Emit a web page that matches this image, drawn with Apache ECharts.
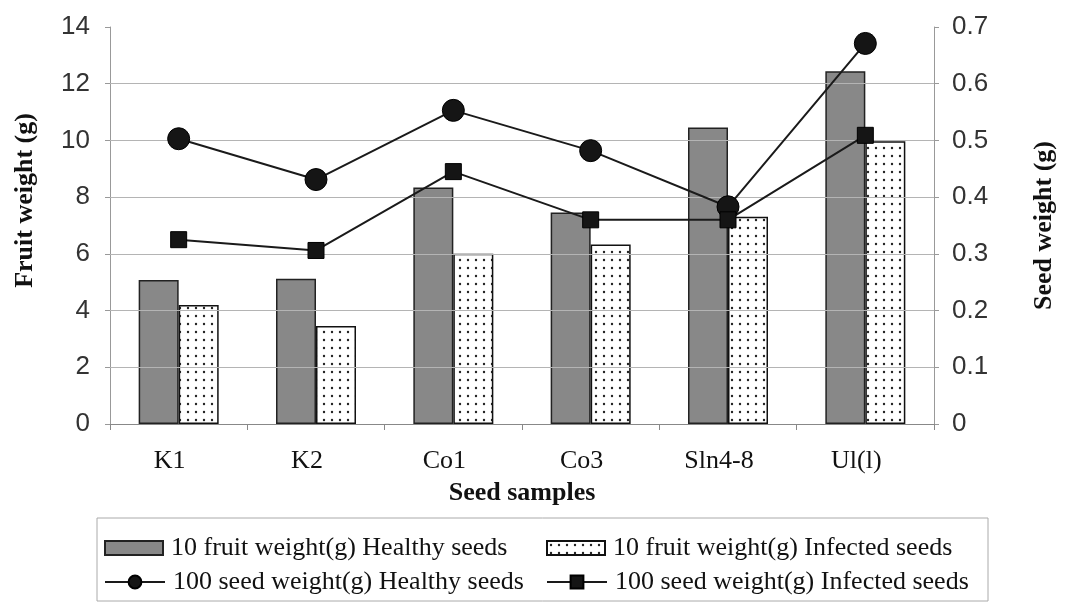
<!DOCTYPE html>
<html>
<head>
<meta charset="utf-8">
<script src="https://cdn.jsdelivr.net/npm/echarts@6/dist/echarts.min.js"></script>
<style>
html,body{margin:0;padding:0;background:#fff;}
#c{width:1065px;height:602px;}
</style>
</head>
<body>
<div id="c"></div>
<script>
// ---- data ----
var categories = ['K1', 'K2', 'Co1', 'Co3', 'Sln4-8', 'Ul(l)'];
var fruitHealthy = [5.08, 5.12, 8.34, 7.46, 10.46, 12.44];
var fruitInfected = [4.2, 3.46, 6.0, 6.33, 7.31, 9.97];
var seedHealthy = [0.503, 0.431, 0.553, 0.482, 0.383, 0.671];
var seedInfected = [0.325, 0.306, 0.445, 0.36, 0.36, 0.509];
var seriesNames = [
  '10 fruit weight(g) Healthy seeds',
  '10 fruit weight(g) Infected seeds',
  '100 seed weight(g) Healthy seeds',
  '100 seed weight(g) Infected seeds'
];
var leftTicks = [0, 14, 2];
var rightTicks = [0, 0.7, 0.1];
var gridValues = [2, 4, 6, 8, 10, 12];

// dotted pattern
var pc = document.createElement('canvas');
pc.width = 8; pc.height = 8;
var g = pc.getContext('2d');
g.fillStyle = '#fff'; g.fillRect(0, 0, 8, 8);
g.fillStyle = '#222';
g.beginPath(); g.arc(4, 4, 1.2, 0, Math.PI * 2); g.fill();

var serif = 'Liberation Serif';
var sans = 'Liberation Sans';

var chart = echarts.init(document.getElementById('c'), null, {renderer: 'canvas'});

function legendItem(name, left, top, w, h, icon) {
  var o = {
    data: [name], left: left, top: top, orient: 'horizontal',
    itemWidth: w, itemHeight: h, itemGap: 0, padding: 0,
    selectedMode: false,
    textStyle: {fontFamily: serif, fontSize: 26, color: '#111', padding: [0, 0, 0, 3]}
  };
  if (icon) o.icon = icon;
  return o;
}

chart.setOption({
  animation: false,
  backgroundColor: '#fff',
  grid: {left: 110, right: 122, top: 27, bottom: 178},
  graphic: [{
    type: 'rect', shape: {x: 97, y: 518, width: 891, height: 83},
    style: {fill: 'none', stroke: '#aaa', lineWidth: 1}
  }],
  legend: [
    legendItem(seriesNames[0], 104, 535, 58, 14, 'rect'),
    legendItem(seriesNames[1], 546, 535, 58, 14, 'rect'),
    legendItem(seriesNames[2], 104, 569, 60, 16),
    legendItem(seriesNames[3], 546, 569, 60, 16)
  ],
  xAxis: {
    type: 'category', data: categories,
    name: 'Seed samples', nameLocation: 'middle', nameGap: 56,
    nameTextStyle: {fontFamily: serif, fontSize: 26, fontWeight: 'bold', color: '#111'},
    axisLine: {lineStyle: {color: '#888', width: 1}},
    axisTick: {show: true, length: 6, lineStyle: {color: '#888'}},
    axisLabel: {fontFamily: serif, fontSize: 26, color: '#111', margin: 24, padding: [0, 18, 0, 0]}
  },
  yAxis: [{
    type: 'value', min: leftTicks[0], max: leftTicks[1], interval: leftTicks[2],
    position: 'left',
    name: 'Fruit weight (g)', nameLocation: 'middle', nameGap: 72,
    nameTextStyle: {fontFamily: serif, fontSize: 26, fontWeight: 'bold', color: '#111', padding: [0, 0, 0, 50]},
    axisLine: {show: true, lineStyle: {color: '#999'}},
    axisTick: {show: true, length: 5, lineStyle: {color: '#999'}},
    axisLabel: {fontFamily: sans, fontSize: 26, color: '#333', margin: 20},
    splitLine: {show: false}
  }, {
    type: 'value', min: rightTicks[0], max: rightTicks[1], interval: rightTicks[2],
    position: 'right',
    name: 'Seed weight (g)', nameLocation: 'middle', nameGap: 97, nameRotate: 90,
    nameTextStyle: {fontFamily: serif, fontSize: 26, fontWeight: 'bold', color: '#111'},
    axisLine: {show: true, lineStyle: {color: '#999'}},
    axisTick: {show: true, length: 5, lineStyle: {color: '#999'}},
    axisLabel: {fontFamily: sans, fontSize: 26, color: '#333', margin: 18,
      formatter: function (v) { return v === 0 ? '0' : v.toFixed(1); }},
    splitLine: {show: false}
  }],
  series: [{
    name: 'grid', type: 'line', yAxisIndex: 0, data: [], z: 0,
    silent: true,
    markLine: {
      silent: true, symbol: ['none', 'none'], label: {show: false},
      lineStyle: {color: '#b4b4b4', width: 1, type: 'solid'},
      data: gridValues.map(function (v) { return {yAxis: v}; })
    }
  }, {
    name: seriesNames[0], type: 'bar', yAxisIndex: 0, data: fruitHealthy,
    barWidth: 40, barGap: '0%', z: 2,
    itemStyle: {color: '#888888', borderColor: '#222', borderWidth: 1.5}
  }, {
    name: seriesNames[1], type: 'bar', yAxisIndex: 0, data: fruitInfected,
    barWidth: 40, barGap: '0%', z: 2,
    itemStyle: {color: {image: pc, repeat: 'repeat'}, borderColor: '#111', borderWidth: 1.5}
  }, {
    name: seriesNames[2], type: 'line', yAxisIndex: 1, data: seedHealthy,
    symbol: 'circle', symbolSize: 22, z: 5,
    lineStyle: {color: '#1a1a1a', width: 2},
    itemStyle: {color: '#151515', borderColor: '#000', borderWidth: 1}
  }, {
    name: seriesNames[3], type: 'line', yAxisIndex: 1, data: seedInfected,
    symbol: 'rect', symbolSize: 16, z: 5,
    lineStyle: {color: '#1a1a1a', width: 2},
    itemStyle: {color: '#151515', borderColor: '#000', borderWidth: 1}
  }]
});
</script>
</body>
</html>
